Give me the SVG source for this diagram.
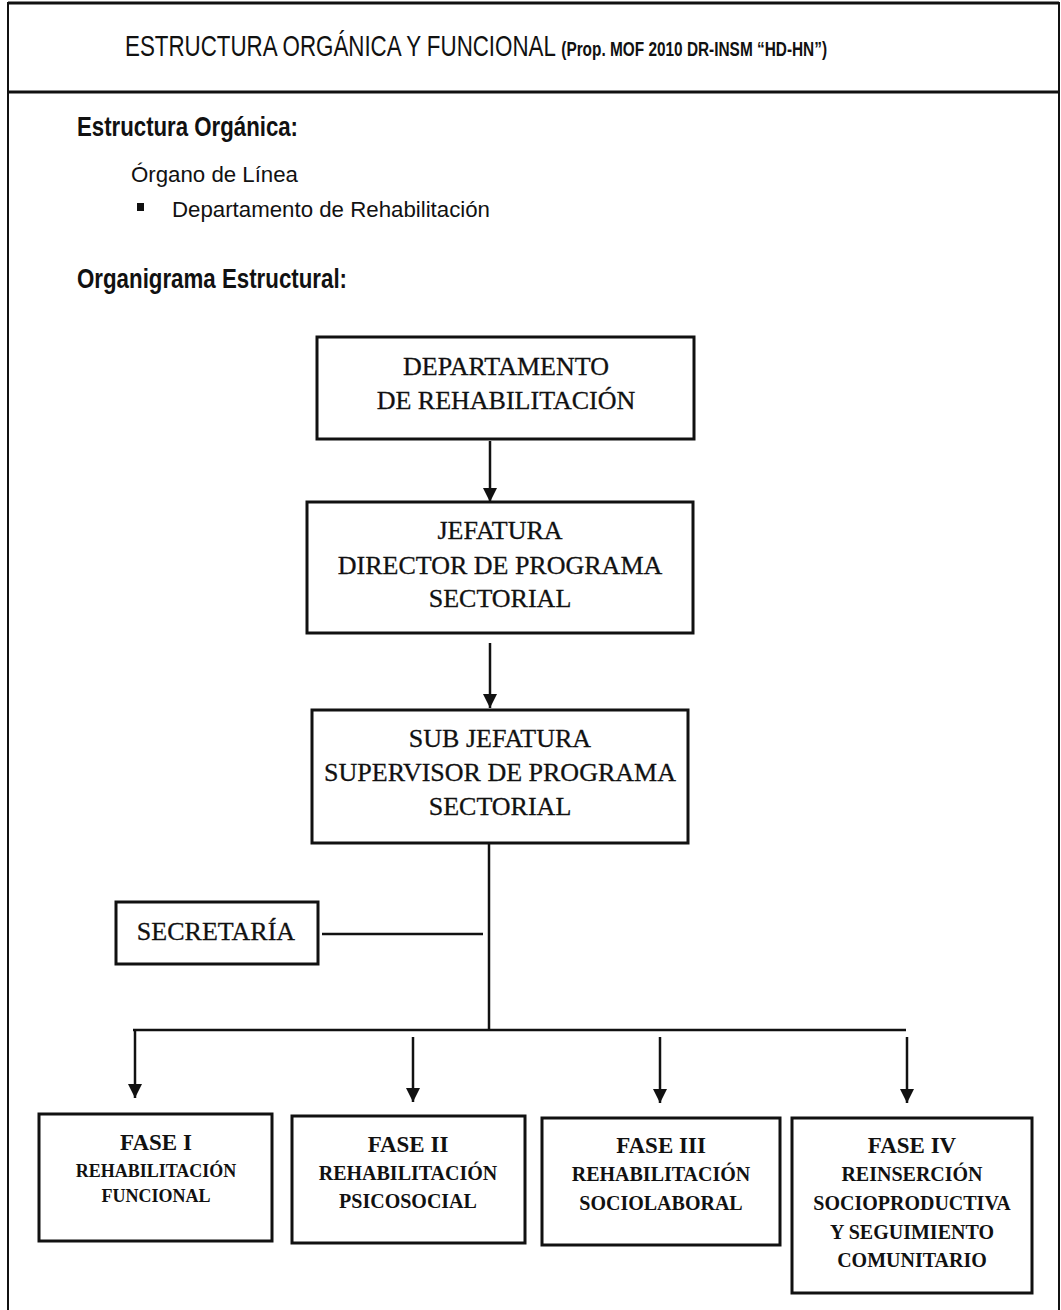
<svg xmlns="http://www.w3.org/2000/svg" width="1061" height="1310" viewBox="0 0 1061 1310">
<defs>
<style>
.frame{fill:none;stroke:#111;stroke-width:2}
.box{fill:#fff;stroke:#111;stroke-width:3}
.ln{fill:none;stroke:#111;stroke-width:2.5}
.hd{font-family:"Liberation Sans",Arial,sans-serif;fill:#111}
.tm{font-family:"Liberation Serif","Times New Roman",serif;fill:#111;stroke:#111;stroke-width:0.3;text-anchor:middle}
.tb{font-family:"Liberation Serif","Times New Roman",serif;fill:#111;text-anchor:middle;font-weight:bold}
</style>
<marker id="ah" viewBox="0 0 10 10" refX="10" refY="5" markerWidth="5.8" markerHeight="5.8" orient="auto" markerUnits="strokeWidth">
<path d="M0,0 L10,5 L0,10 Z" fill="#111"/>
</marker>
</defs>
<rect x="0" y="0" width="1061" height="1310" fill="#fff"/>
<g id="frame">
<path class="frame" d="M8,1310 V3 H1059 V1310"/>
<line x1="8" y1="3" x2="1059" y2="3" stroke="#111" stroke-width="3"/>
<line x1="8" y1="92" x2="1059" y2="92" stroke="#111" stroke-width="3"/>
</g>
<g id="header">
<text class="hd" transform="translate(125,56) scale(0.77,1)" x="0" y="0" font-size="29">ESTRUCTURA ORGÁNICA  Y FUNCIONAL <tspan font-size="20" font-weight="bold">(Prop. MOF 2010 DR-INSM “HD-HN”)</tspan></text>
<text class="hd" x="77" y="136" font-size="27" font-weight="bold" textLength="221" lengthAdjust="spacingAndGlyphs">Estructura Orgánica:</text>
<text class="hd" x="131" y="182" font-size="22" textLength="167" lengthAdjust="spacingAndGlyphs">Órgano de Línea</text>
<rect x="137" y="203" width="7" height="8" fill="#111"/>
<text class="hd" x="172" y="217" font-size="22" textLength="318" lengthAdjust="spacingAndGlyphs">Departamento de Rehabilitación</text>
<text class="hd" x="77" y="288" font-size="27" font-weight="bold" textLength="270" lengthAdjust="spacingAndGlyphs">Organigrama Estructural:</text>
</g>
<g id="connectors">
<line class="ln" x1="490" y1="441" x2="490" y2="502" marker-end="url(#ah)"/>
<line class="ln" x1="490" y1="643" x2="490" y2="708" marker-end="url(#ah)"/>
<line class="ln" x1="489" y1="843" x2="489" y2="1030"/>
<line class="ln" x1="322" y1="934" x2="483" y2="934"/>
<line class="ln" x1="133" y1="1030" x2="906" y2="1030"/>
<line class="ln" x1="135" y1="1030" x2="135" y2="1098" marker-end="url(#ah)"/>
<line class="ln" x1="413" y1="1037" x2="413" y2="1102" marker-end="url(#ah)"/>
<line class="ln" x1="660" y1="1037" x2="660" y2="1103" marker-end="url(#ah)"/>
<line class="ln" x1="907" y1="1037" x2="907" y2="1103" marker-end="url(#ah)"/>
</g>
<g id="n-departamento">
<rect class="box" x="317" y="337" width="377" height="102"/>
<text class="tm" x="506" y="375" font-size="26">DEPARTAMENTO</text>
<text class="tm" x="506" y="409" font-size="26">DE REHABILITACIÓN</text>
</g>
<g id="n-jefatura">
<rect class="box" x="307" y="502" width="386" height="131"/>
<text class="tm" x="500" y="539" font-size="26">JEFATURA</text>
<text class="tm" x="500" y="574" font-size="26">DIRECTOR DE PROGRAMA</text>
<text class="tm" x="500" y="607" font-size="26">SECTORIAL</text>
</g>
<g id="n-subjefatura">
<rect class="box" x="312" y="710" width="376" height="133"/>
<text class="tm" x="500" y="747" font-size="26">SUB JEFATURA</text>
<text class="tm" x="500" y="781" font-size="26">SUPERVISOR DE PROGRAMA</text>
<text class="tm" x="500" y="815" font-size="26">SECTORIAL</text>
</g>
<g id="n-secretaria">
<rect class="box" x="116" y="902" width="202" height="62"/>
<text class="tm" x="216" y="940" font-size="26">SECRETARÍA</text>
</g>
<g id="n-fase1">
<rect class="box" x="39" y="1114" width="233" height="127"/>
<text class="tb" x="156" y="1150" font-size="23">FASE I</text>
<text class="tb" x="156" y="1177" font-size="18">REHABILITACIÓN</text>
<text class="tb" x="156" y="1202" font-size="18">FUNCIONAL</text>
</g>
<g id="n-fase2">
<rect class="box" x="292" y="1116" width="233" height="127"/>
<text class="tb" x="408" y="1152" font-size="23">FASE II</text>
<text class="tb" x="408" y="1180" font-size="20">REHABILITACIÓN</text>
<text class="tb" x="408" y="1208" font-size="20">PSICOSOCIAL</text>
</g>
<g id="n-fase3">
<rect class="box" x="542" y="1118" width="238" height="127"/>
<text class="tb" x="661" y="1153" font-size="23">FASE III</text>
<text class="tb" x="661" y="1181" font-size="20">REHABILITACIÓN</text>
<text class="tb" x="661" y="1210" font-size="20">SOCIOLABORAL</text>
</g>
<g id="n-fase4">
<rect class="box" x="792" y="1118" width="240" height="175"/>
<text class="tb" x="912" y="1153" font-size="23">FASE IV</text>
<text class="tb" x="912" y="1181" font-size="20">REINSERCIÓN</text>
<text class="tb" x="912" y="1210" font-size="20">SOCIOPRODUCTIVA</text>
<text class="tb" x="912" y="1239" font-size="20">Y SEGUIMIENTO</text>
<text class="tb" x="912" y="1267" font-size="20">COMUNITARIO</text>
</g>
</svg>
